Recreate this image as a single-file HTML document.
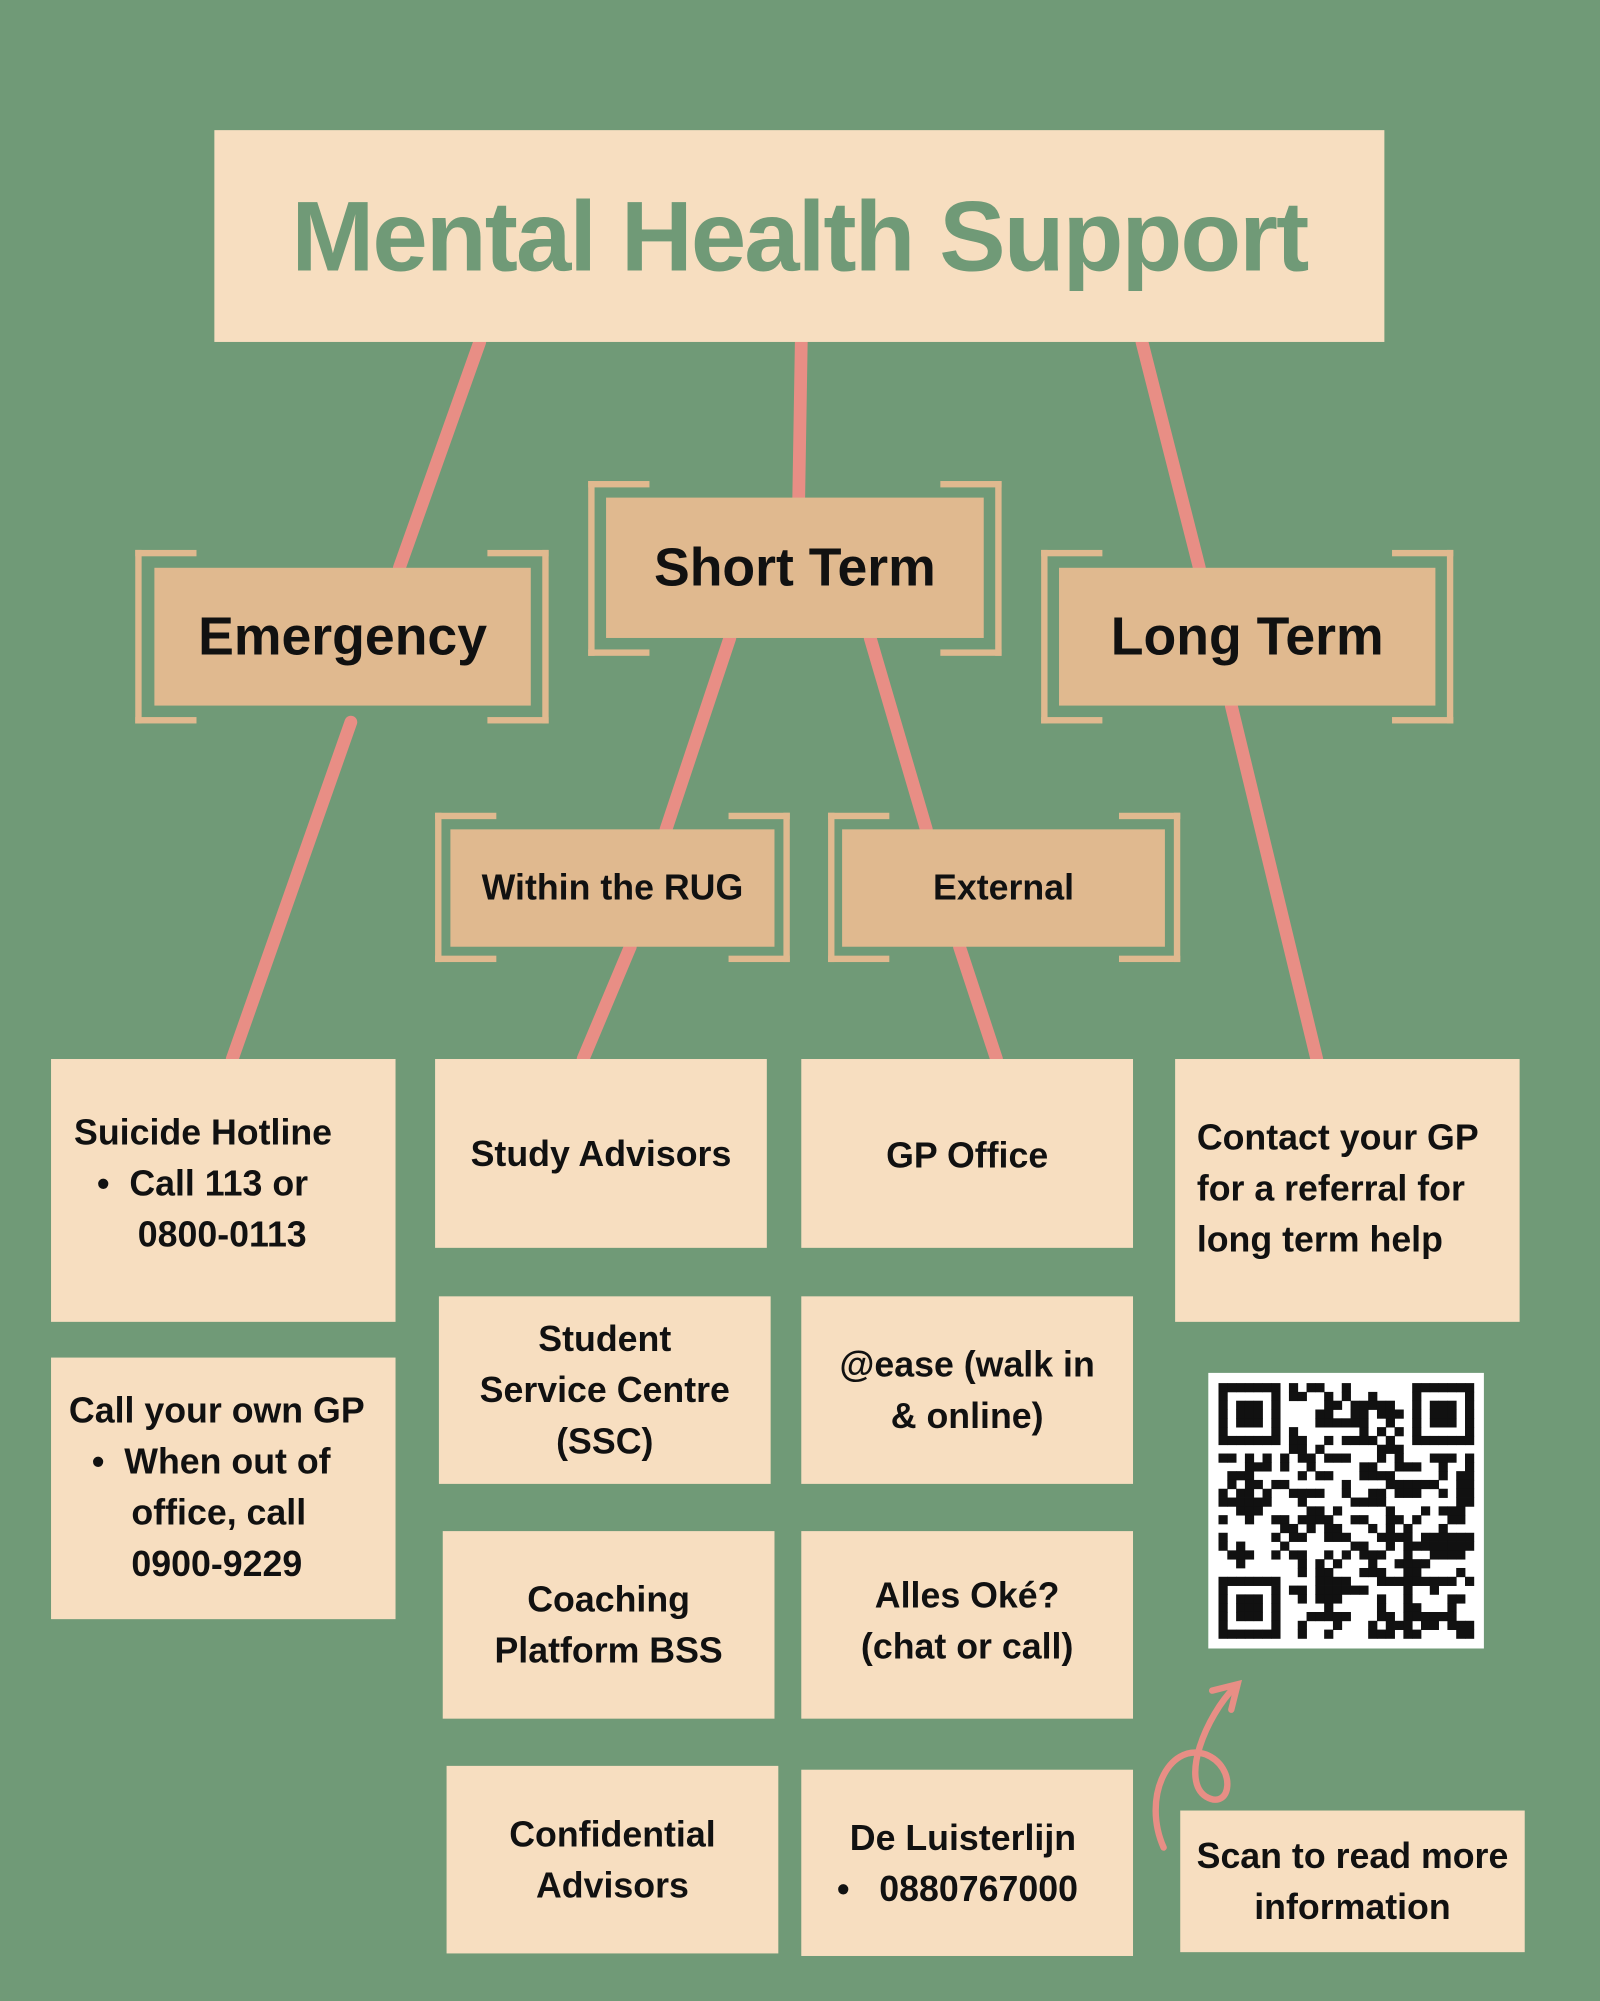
<!DOCTYPE html>
<html><head><meta charset="utf-8">
<style>
html,body{margin:0;padding:0;background:#709a77;}
#wrap{width:1254px;height:1568px;position:relative;transform:scale(1.27592);transform-origin:0 0;background:#709a77;font-family:"Liberation Sans","DejaVu Sans",sans-serif;overflow:hidden}
.a{position:absolute;box-sizing:border-box}
.box{position:absolute;background:#f7dec0;color:#111;font-weight:bold;font-size:28px;line-height:40px;display:flex;align-items:center;justify-content:center;text-align:center;box-sizing:border-box}
.lab{position:absolute;background:#e0b98f;color:#111;font-weight:bold;display:flex;align-items:center;justify-content:center;box-sizing:border-box}
.bl,.br{position:absolute;border:5px solid #e0b98f;width:48px;box-sizing:border-box}
.bl{border-right:none}.br{border-left:none}
</style></head><body>
<div id="wrap">
<svg class="a" style="left:0;top:0" width="1254" height="1568">
<g stroke="#e88e85" stroke-width="10" stroke-linecap="round">
<line x1="376" y1="268" x2="313" y2="445"/>
<line x1="628" y1="268" x2="626" y2="390"/>
<line x1="895" y1="268" x2="940" y2="445"/>
<line x1="275" y1="566" x2="182" y2="830"/>
<line x1="572" y1="500" x2="522" y2="650"/>
<line x1="494" y1="742" x2="457" y2="830"/>
<line x1="682" y1="500" x2="726" y2="650"/>
<line x1="752" y1="742" x2="781" y2="830"/>
<line x1="965" y1="553" x2="1032" y2="830"/>
</g>
<path d="M912,1448 C895,1410 915,1365 945,1375 C970,1385 965,1420 945,1408 C925,1395 945,1345 968,1322" fill="none" stroke="#e88e85" stroke-width="5" stroke-linecap="round"/>
<path d="M950,1325 L970,1320 L965,1340" fill="none" stroke="#e88e85" stroke-width="5" stroke-linecap="round"/>
</svg>

<div class="a" style="left:168px;top:102px;width:917px;height:166px;background:#f7dec0;display:flex;align-items:center;justify-content:center;color:#709a77;font-weight:bold;font-size:78px;letter-spacing:-1.5px">Mental Health Support</div>

<div class="bl" style="left:106px;top:431px;height:136px"></div><div class="br" style="left:382px;top:431px;height:136px"></div>
<div class="lab" style="left:121px;top:445px;width:295px;height:108px;font-size:42px">Emergency</div>
<div class="bl" style="left:461px;top:377px;height:137px"></div><div class="br" style="left:737px;top:377px;height:137px"></div>
<div class="lab" style="left:475px;top:390px;width:296px;height:110px;font-size:42px">Short Term</div>
<div class="bl" style="left:816px;top:431px;height:136px"></div><div class="br" style="left:1091px;top:431px;height:136px"></div>
<div class="lab" style="left:830px;top:445px;width:295px;height:108px;font-size:42px">Long Term</div>
<div class="bl" style="left:341px;top:637px;height:117px"></div><div class="br" style="left:571px;top:637px;height:117px"></div>
<div class="lab" style="left:353px;top:650px;width:254px;height:92px;font-size:28px">Within the RUG</div>
<div class="bl" style="left:649px;top:637px;height:117px"></div><div class="br" style="left:877px;top:637px;height:117px"></div>
<div class="lab" style="left:660px;top:650px;width:253px;height:92px;font-size:28px">External</div>

<div class="box" style="left:40px;top:830px;width:270px;height:206px;display:block;text-align:left;padding:38px 0 0 18px">Suicide Hotline<br><span style="padding-left:18px">•&nbsp;&nbsp;Call 113 or</span><br><span style="padding-left:50px">0800-0113</span></div>
<div class="box" style="left:40px;top:1064px;width:270px;height:205px;display:block;text-align:left;padding:22px 0 0 14px">Call your own GP<br><span style="padding-left:18px">•&nbsp;&nbsp;When out of</span><br><span style="padding-left:49px">office, call</span><br><span style="padding-left:49px">0900-9229</span></div>
<div class="box" style="left:341px;top:830px;width:260px;height:148px;padding-top:2px">Study Advisors</div>
<div class="box" style="left:344px;top:1016px;width:260px;height:147px">Student<br>Service Centre<br>(SSC)</div>
<div class="box" style="left:347px;top:1200px;width:260px;height:147px">Coaching<br>Platform BSS</div>
<div class="box" style="left:350px;top:1384px;width:260px;height:147px">Confidential<br>Advisors</div>
<div class="box" style="left:628px;top:830px;width:260px;height:148px;padding-top:4px">GP Office</div>
<div class="box" style="left:628px;top:1016px;width:260px;height:147px">@ease (walk in<br>&amp; online)</div>
<div class="box" style="left:628px;top:1200px;width:260px;height:147px;padding-bottom:6px">Alles Oké?<br>(chat or call)</div>
<div class="box" style="left:628px;top:1387px;width:260px;height:146px;display:block;text-align:left;padding:34px 0 0 38px">De Luisterlijn<br><span style="margin-left:-10px">•&nbsp;&nbsp;&nbsp;0880767000</span></div>
<div class="box" style="left:921px;top:830px;width:270px;height:206px;display:block;text-align:left;padding:42px 0 0 17px">Contact your GP<br>for a referral for<br>long term help</div>
<div class="box" style="left:925px;top:1419px;width:270px;height:111px">Scan to read more<br>information</div>

<div class="a" style="left:947px;top:1076px;width:216px;height:216px;background:#fff">
<svg id="qr" width="216" height="216" viewBox="0 0 216 216"></svg>
</div>
</div>
<script>
(function(){var s=document.getElementById('qr'),n=29,c=6.9,o=8,h='';var seed=7;function r(){seed=(seed*16807)%2147483647;return seed/2147483647;}
function fin(x,y){return x>=0&&x<7&&y>=0&&y<7?((x==0||x==6||y==0||y==6)||(x>=2&&x<=4&&y>=2&&y<=4)):null;}
for(var y=0;y<n;y++)for(var x=0;x<n;x++){var v=null;
if(x<8&&y<8)v=fin(x,y)||false;else if(x>=n-8&&y<8)v=fin(x-(n-7),y)||false;else if(x<8&&y>=n-8)v=fin(x,y-(n-7))||false;else v=r()<0.5;
if(v)h+='<rect x="'+(o+x*c)+'" y="'+(o+y*c)+'" width="'+(c+0.3)+'" height="'+(c+0.3)+'" fill="#111"/>';}
s.innerHTML=h;})();
</script>
</body></html>
